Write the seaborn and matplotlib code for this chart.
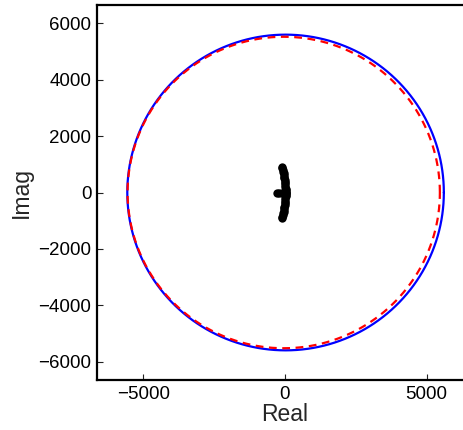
import numpy as np
import pandas as pd
import matplotlib
matplotlib.use("Agg")
import matplotlib.pyplot as plt
import seaborn as sns

# ---- data ----
blue_center = (20.0, 0.0)
blue_radius = 5590.0
red_center = (-45.0, 0.0)
red_radius = 5515.0

eig_imag = [900, 860, 800, 740, 680, 620, 560, 500, 440, 380, 320, 260, 200, 140,
            80, 30, 0, -30, -80, -140, -200, -260, -320, -380, -440, -500, -560,
            -620, -680, -740, -800, -860, -900, 0, 0, 0]
eig_real = [-110, -95, -80, -65, -50, -40, -30, -20, -10, 0, 5, 10, 15, 20,
            20, 20, 20, 20, 20, 20, 15, 10, 5, 0, -10, -20, -30,
            -40, -50, -65, -80, -95, -110, -290, -200, -100]

x_ticks = [-5000, 0, 5000]
y_ticks = [-6000, -4000, -2000, 0, 2000, 4000, 6000]
axis_lim = 6640

sns.set_theme(style="white")
plt.rcParams['font.family'] = ['Liberation Sans', 'DejaVu Sans']

theta = np.linspace(0, 2 * np.pi, 721)
blue_df = pd.DataFrame({
    "Real": blue_center[0] + blue_radius * np.cos(theta),
    "Imag": blue_center[1] + blue_radius * np.sin(theta)})
red_df = pd.DataFrame({
    "Real": red_center[0] + red_radius * np.cos(theta),
    "Imag": red_center[1] + red_radius * np.sin(theta)})
eig_df = pd.DataFrame({"Real": eig_real, "Imag": eig_imag})

fig = plt.figure(figsize=(4.63, 4.30), dpi=100)
ax = fig.add_axes([97 / 463, 50 / 430, 376 / 463, 375 / 430])

sns.lineplot(data=blue_df, x="Real", y="Imag", sort=False, estimator=None,
             color="#0000ff", linewidth=1.6, ax=ax)
sns.lineplot(data=red_df, x="Real", y="Imag", sort=False, estimator=None,
             color="#ff0000", linewidth=1.6, linestyle=(0, (3.5, 2.5)), ax=ax)
sns.scatterplot(data=eig_df, x="Real", y="Imag", color="black", s=36,
                linewidth=0, ax=ax)

ax.set_xlim(-axis_lim, axis_lim)
ax.set_ylim(-axis_lim, axis_lim)
ax.set_xticks(x_ticks)
ax.set_yticks(y_ticks)
ax.set_xticklabels(["\u22125000", "0", "5000"])
ax.set_yticklabels(["\u22126000", "\u22124000", "\u22122000", "0", "2000", "4000", "6000"])
ax.tick_params(direction="in", length=4, width=0.8, labelsize=13.5, pad=4,
               colors="#222222", labelcolor="black", top=False, right=False,
               bottom=True, left=True)
ax.set_xlabel("Real", fontsize=16.5, labelpad=0)
ax.set_ylabel("Imag", fontsize=16.5, labelpad=4)
for sp in ax.spines.values():
    sp.set_linewidth(1.6)
    sp.set_color("black")
    sp.set_visible(True)
ax.grid(False)

fig.savefig("out.png", dpi=100)
